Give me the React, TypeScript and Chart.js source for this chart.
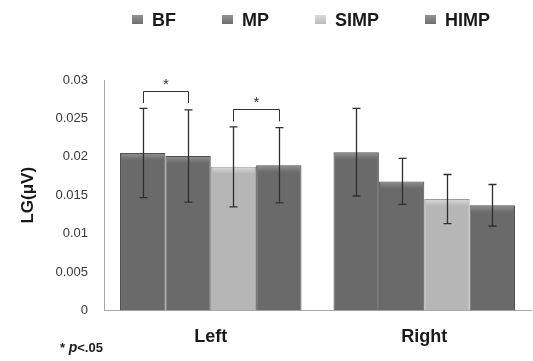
import React, { useEffect, useRef } from "react";
import { Chart, registerables } from "chart.js";

Chart.register(...registerables);

const categories = ["Left", "Right"];
const seriesNames = ["BF", "MP", "SIMP", "HIMP"];
const bfValues = [0.0205, 0.0206];
const mpValues = [0.0201, 0.0168];
const simpValues = [0.0187, 0.0145];
const himpValues = [0.0189, 0.0137];
const bfErrors = [0.0058, 0.0057];
const mpErrors = [0.006, 0.003];
const simpErrors = [0.0052, 0.0032];
const himpErrors = [0.0049, 0.0027];
const yTickValues = [0, 0.005, 0.01, 0.015, 0.02, 0.025, 0.03];
const yTickLabels = ["0", "0.005", "0.01", "0.015", "0.02", "0.025", "0.03"];
const sigCategory = [0, 0];
const sigFrom = [0, 2];
const sigTo = [1, 3];
const sigLevel = [0.0286, 0.0262];
const sigDrop = 0.0016;
const sigMark = "*";
const footnoteParts = ["* ", "p", "<.05"];
const yTitle = "LG(\u03bcV)";

const seriesValues = [bfValues, mpValues, simpValues, himpValues];
const seriesErrors = [bfErrors, mpErrors, simpErrors, himpErrors];
const seriesColors = ["#6a6a6a", "#6a6a6a", "#b6b6b6", "#6a6a6a"];
const seriesBorders = ["#505050", "#505050", "#9a9a9a", "#505050"];
const seriesHighlights = ["#939393", "#939393", "#dadada", "#939393"];

const FONT = "'Liberation Sans', Arial, sans-serif";

const decorPlugin = {
  id: "decor",
  afterDatasetsDraw(chart: any) {
    const ctx = chart.ctx;
    const yScale = chart.scales.y;
    ctx.save();
    // bevel highlight on bars
    chart.data.datasets.forEach((ds: any, i: number) => {
      const meta = chart.getDatasetMeta(i);
      meta.data.forEach((bar: any) => {
        const left = bar.x - bar.width / 2 + 1.5;
        const w = bar.width - 3;
        const g = ctx.createLinearGradient(0, bar.y, 0, bar.y + 7);
        g.addColorStop(0, seriesHighlights[i]);
        g.addColorStop(1, seriesColors[i]);
        ctx.fillStyle = g;
        ctx.fillRect(left, bar.y + 1, w, 6);
      });
    });
    // error bars
    ctx.strokeStyle = "#2e2e2e";
    ctx.lineWidth = 1.3;
    chart.data.datasets.forEach((ds: any, i: number) => {
      const meta = chart.getDatasetMeta(i);
      meta.data.forEach((bar: any, j: number) => {
        const v = seriesValues[i][j];
        const e = seriesErrors[i][j];
        const yTop = yScale.getPixelForValue(v + e);
        const yBot = yScale.getPixelForValue(v - e);
        const x = Math.round(bar.x) + 0.5;
        ctx.beginPath();
        ctx.moveTo(x, yTop);
        ctx.lineTo(x, yBot);
        ctx.moveTo(x - 4, yTop);
        ctx.lineTo(x + 4, yTop);
        ctx.moveTo(x - 4, yBot);
        ctx.lineTo(x + 4, yBot);
        ctx.stroke();
      });
    });
    // significance brackets
    ctx.strokeStyle = "#333";
    ctx.lineWidth = 1;
    ctx.fillStyle = "#333";
    ctx.font = `15px ${FONT}`;
    ctx.textAlign = "center";
    ctx.textBaseline = "middle";
    sigLevel.forEach((lvl, k) => {
      const a = chart.getDatasetMeta(sigFrom[k]).data[sigCategory[k]];
      const b = chart.getDatasetMeta(sigTo[k]).data[sigCategory[k]];
      const yH = Math.round(yScale.getPixelForValue(lvl)) + 0.5;
      const yL = yScale.getPixelForValue(lvl - sigDrop);
      const xa = Math.round(a.x) + 0.5;
      const xb = Math.round(b.x) + 0.5;
      ctx.beginPath();
      ctx.moveTo(xa, yL);
      ctx.lineTo(xa, yH);
      ctx.lineTo(xb, yH);
      ctx.lineTo(xb, yL);
      ctx.stroke();
      ctx.fillText(sigMark, (xa + xb) / 2, yH - 7);
    });
    ctx.restore();
  },
  afterDraw(chart: any) {
    const ctx = chart.ctx;
    ctx.save();
    // legend
    ctx.textBaseline = "middle";
    ctx.textAlign = "left";
    ctx.font = `bold 18px ${FONT}`;
    let x = 132;
    const y = 20;
    chart.data.datasets.forEach((ds: any, i: number) => {
      const g = ctx.createLinearGradient(0, y - 5, 0, y + 5);
      g.addColorStop(0, seriesHighlights[i]);
      g.addColorStop(1, seriesColors[i]);
      ctx.fillStyle = g;
      ctx.fillRect(x, y - 5, 11, 9);
      ctx.fillStyle = "#1a1a1a";
      ctx.fillText(ds.label, x + 20, y + 1);
      x += 20 + ctx.measureText(ds.label).width + 46;
    });
    // footnote
    let fx = 60;
    const fy = 348;
    ctx.fillStyle = "#1a1a1a";
    footnoteParts.forEach((part, k) => {
      ctx.font = k === 1 ? `italic bold 14px ${FONT}` : `bold 13px ${FONT}`;
      ctx.fillText(part, fx, fy);
      fx += ctx.measureText(part).width;
    });
    ctx.restore();
  },
};

export default function App() {
  const ref = useRef<HTMLCanvasElement>(null);
  useEffect(() => {
    if (!ref.current) return;
    const chart = new Chart(ref.current, {
      type: "bar",
      data: {
        labels: categories,
        datasets: seriesNames.map((name, i) => ({
          label: name,
          data: seriesValues[i],
          backgroundColor: seriesColors[i],
          borderColor: seriesBorders[i],
          borderWidth: 1,
          categoryPercentage: 0.85,
          barPercentage: 1.0,
        })),
      },
      options: {
        responsive: true,
        maintainAspectRatio: false,
        animation: false,
        layout: { padding: { top: 80, right: 2, left: 0, bottom: 0 } },
        plugins: {
          legend: { display: false },
          tooltip: { enabled: false },
        },
        scales: {
          x: {
            grid: { display: false, drawTicks: false },
            border: { display: true, color: "#a8a8a8", width: 1 },
            ticks: {
              color: "#1a1a1a",
              font: { family: FONT, size: 18, weight: "bold" },
              padding: 16,
            },
            afterFit: (scale: any) => {
              scale.height = 50.5;
            },
          },
          y: {
            min: 0,
            max: 0.03,
            afterBuildTicks: (scale: any) => {
              scale.ticks = yTickValues.map((v) => ({ value: v }));
            },
            grid: { display: false, drawTicks: false },
            border: { display: true, color: "#a8a8a8", width: 1 },
            ticks: {
              color: "#383838",
              font: { family: FONT, size: 13 },
              padding: 16,
              callback: (value: any) => {
                const idx = yTickValues.findIndex((t) => Math.abs(t - value) < 1e-9);
                return idx >= 0 ? yTickLabels[idx] : "";
              },
            },
            title: {
              display: true,
              text: yTitle,
              color: "#1a1a1a",
              font: { family: FONT, size: 17, weight: "bold" },
              padding: { top: 18, bottom: 0 },
            },
            afterFit: (scale: any) => {
              scale.width = 104;
            },
          },
        },
      },
      plugins: [decorPlugin],
    });
    return () => chart.destroy();
  }, []);
  return (
    <div style={{ position: "fixed", left: 0, top: 0, width: 533, height: 361, background: "#fff" }}>
      <canvas ref={ref} />
    </div>
  );
}
